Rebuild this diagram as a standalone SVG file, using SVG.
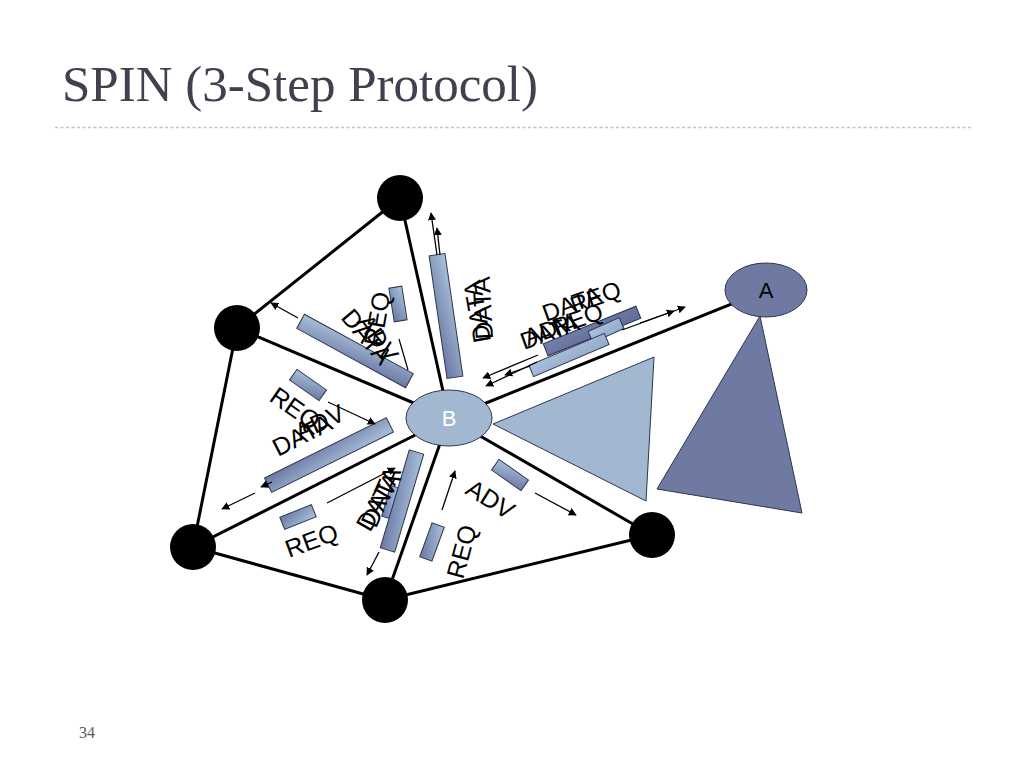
<svg xmlns="http://www.w3.org/2000/svg" width="1024" height="768" viewBox="0 0 1024 768">
<style>
.edge{stroke:#000;stroke-width:3;fill:none}
.node{fill:#000}
.arr{stroke:#000;stroke-width:1.3;fill:none;marker-end:url(#ah)}
.pkt{fill:url(#g1);stroke:#2e3550;stroke-width:1}
.pktd{fill:url(#g2);stroke:#2e3550;stroke-width:1}
.lbl{font-family:"Liberation Sans",Arial,sans-serif;font-size:25px;fill:#000}
.lbl2{font-family:"Liberation Sans",Arial,sans-serif;font-size:24px;fill:#000}
</style>
<defs>
<linearGradient id="g1" x1="0" y1="0" x2="1" y2="1">
<stop offset="0" stop-color="#a9c1da"/>
<stop offset="1" stop-color="#6a78a3"/>
</linearGradient>
<linearGradient id="g2" x1="0" y1="0" x2="1" y2="1">
<stop offset="0" stop-color="#7480a8"/>
<stop offset="1" stop-color="#5f6c98"/>
</linearGradient>
<linearGradient id="g3" x1="0" y1="0" x2="1" y2="1">
<stop offset="0" stop-color="#a9c1da"/>
<stop offset="1" stop-color="#93abca"/>
</linearGradient>
<marker id="ah" viewBox="0 0 10 10" refX="9" refY="5" markerWidth="8" markerHeight="8" orient="auto" markerUnits="userSpaceOnUse">
<path d="M0,0 L10,5 L0,10 z" fill="#000"/>
</marker>
</defs>
<rect width="1024" height="768" fill="#fff"/>
<text x="62" y="101" font-family="Liberation Serif,'Times New Roman',serif" font-size="51" fill="#40414f">SPIN (3-Step Protocol)</text>
<line x1="55" y1="127.5" x2="972" y2="127.5" stroke="#c4c4c4" stroke-width="1.3" stroke-dasharray="3,2.5"/>
<text x="79" y="738" font-family="Liberation Serif,'Times New Roman',serif" font-size="16" fill="#5a5a5a">34</text>

<g id="connectors">
<line class="edge" x1="400" y1="198" x2="237" y2="328"/>
<line class="edge" x1="237" y1="328" x2="193" y2="547"/>
<line class="edge" x1="193" y1="547" x2="385" y2="600"/>
<line class="edge" x1="385" y1="600" x2="652" y2="535"/>
<line class="edge" x1="449" y1="418" x2="400" y2="198"/>
<line class="edge" x1="449" y1="418" x2="237" y2="328"/>
<line class="edge" x1="449" y1="418" x2="193" y2="547"/>
<line class="edge" x1="449" y1="418" x2="385" y2="600"/>
<line class="edge" x1="449" y1="418" x2="652" y2="535"/>
<line class="edge" x1="449" y1="418" x2="766" y2="290"/>
</g>

<g id="triangles">
<polygon points="493,424 654,357 646,501" fill="#a1b8d0" stroke="#2e3550" stroke-width="1"/>
<polygon points="760,316 657,489 802,513" fill="#6e7aa2" stroke="#2e3550" stroke-width="1"/>
</g>

<g id="node-top"><circle class="node" cx="400" cy="198" r="23"/></g>
<g id="node-ul"><circle class="node" cx="237" cy="328" r="23"/></g>
<g id="node-ll"><circle class="node" cx="193" cy="547" r="23"/></g>
<g id="node-bottom"><circle class="node" cx="385" cy="600" r="23"/></g>
<g id="node-lr"><circle class="node" cx="652" cy="535" r="23"/></g>
<g id="node-B">
<ellipse cx="449" cy="418" rx="43" ry="28" fill="#a1b8d0" stroke="#2e3550" stroke-width="1"/>
<text x="449" y="426" text-anchor="middle" font-family="Liberation Sans,Arial,sans-serif" font-size="22" fill="#fff">B</text>
</g>
<g id="node-A">
<ellipse cx="766" cy="290" rx="41" ry="27" fill="#6e7aa2" stroke="#2e3550" stroke-width="1"/>
<text x="766" y="298" text-anchor="middle" font-family="Liberation Sans,Arial,sans-serif" font-size="22" fill="#000">A</text>
</g>

<g id="packets">
<rect class="pkt" x="-62" y="-8" width="124" height="16" transform="translate(446,316) rotate(81.7)"/>
<rect class="pkt" x="-17" y="-6.5" width="34" height="13" transform="translate(398,304) rotate(81)"/>
<rect class="pkt" x="-62" y="-8" width="124" height="16" transform="translate(355,351) rotate(28.6)"/>
<rect class="pkt" x="-18" y="-6.5" width="36" height="13" transform="translate(308,385) rotate(35)"/>
<rect class="pkt" x="-68" y="-8" width="136" height="16" transform="translate(329,455) rotate(153.6)"/>
<rect class="pkt" x="-17" y="-6.5" width="34" height="13" transform="translate(298,517) rotate(158)"/>
<rect class="pkt" x="-16" y="-4" width="32" height="8" transform="translate(390,502) rotate(106)"/>
<rect class="pkt" x="-51" y="-7.5" width="102" height="15" transform="translate(402,501) rotate(106.5)"/>
<rect class="pkt" x="-18" y="-6.5" width="36" height="13" transform="translate(432,542) rotate(110)"/>
<rect class="pkt" x="-18" y="-6.5" width="36" height="13" transform="translate(510,475) rotate(35)"/>
<rect class="pktd" x="-50" y="-6.5" width="100" height="13" transform="translate(592,331) rotate(-22)"/>
<rect class="pkt" x="-17" y="-6" width="34" height="12" style="fill:url(#g3)" transform="translate(606,330) rotate(-24)"/>
<rect class="pkt" x="-41" y="-6" width="82" height="12" style="fill:url(#g3)" transform="translate(569,355) rotate(-23)"/>
</g>

<g id="arrows">
<line class="arr" x1="437" y1="255" x2="431" y2="213"/>
<line class="arr" x1="440" y1="255" x2="437" y2="228"/>
<line class="arr" x1="298" y1="318" x2="271" y2="303"/>
<line stroke="#000" stroke-width="1.2" x1="399" y1="339" x2="408" y2="370"/>
<line class="arr" x1="328" y1="402" x2="375" y2="424"/>
<line class="arr" x1="255" y1="493" x2="222" y2="509"/>
<line class="arr" x1="272" y1="482" x2="261" y2="487"/>
<line class="arr" x1="327" y1="503" x2="395" y2="468"/>
<line class="arr" x1="379" y1="552" x2="367" y2="575"/>
<line class="arr" x1="442" y1="510" x2="455" y2="471"/>
<line class="arr" x1="535" y1="493" x2="576" y2="515"/>
<line class="arr" x1="538" y1="355" x2="483" y2="378"/>
<line class="arr" x1="537" y1="362" x2="486" y2="386"/>
<line class="arr" x1="530" y1="366" x2="505" y2="375"/>
<line class="arr" x1="622" y1="330" x2="685" y2="307"/>
<line class="arr" x1="640" y1="323" x2="674" y2="311"/>
</g>

<g id="labels">
<text class="lbl" transform="translate(381,347) rotate(-80)">REQ</text>
<text class="lbl" transform="translate(340,318) rotate(50)">DATA</text>
<text class="lbl" transform="translate(356,322) rotate(55)">ADV</text>
<text class="lbl" transform="translate(491,341) rotate(-100)">DATA</text>
<text class="lbl" transform="translate(493,339) rotate(-93)">DATA</text>
<text class="lbl" transform="translate(268,400) rotate(35)">REQ</text>
<text class="lbl" transform="translate(300,441) rotate(-25)">ADV</text>
<text class="lbl" transform="translate(278,457) rotate(-27)">DATA</text>
<text class="lbl" transform="translate(370,533) rotate(-60)">DATA</text>
<text class="lbl" transform="translate(376,529) rotate(-66)">DATA</text>
<text class="lbl" transform="translate(289,558) rotate(-20)">REQ</text>
<text class="lbl" transform="translate(463,580) rotate(-75)">REQ</text>
<text class="lbl" transform="translate(464,493) rotate(32)">ADV</text>
<text class="lbl2" transform="translate(546,322) rotate(-20)">DATA</text>
<text class="lbl2" transform="translate(574,314) rotate(-20)">REQ</text>
<text class="lbl2" transform="translate(528,346) rotate(-20)">ADV</text>
<text class="lbl2" transform="translate(524,350) rotate(-20)">DATA</text>
<text class="lbl2" transform="translate(556,336) rotate(-20)">REQ</text>
</g>
</svg>
